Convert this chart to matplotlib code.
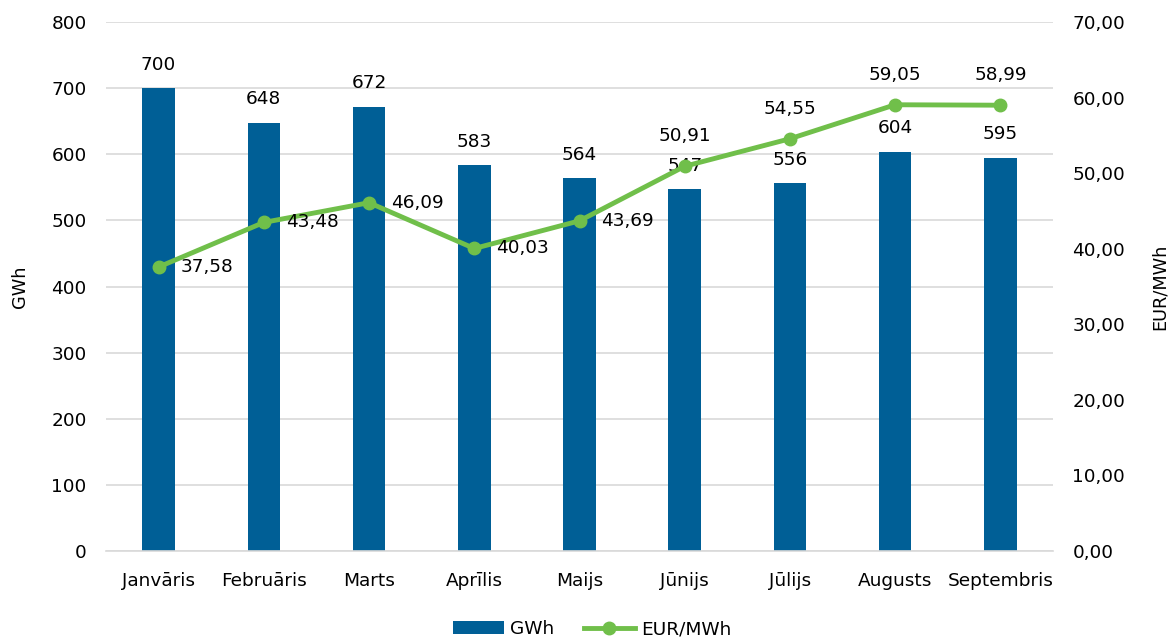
import matplotlib
matplotlib.use("Agg")
import matplotlib.pyplot as plt
import numpy as np

months = ["Janvāris", "Februāris", "Marts", "Aprīlis", "Maijs", "Jūnijs", "Jūlijs", "Augusts", "Septembris"]
gwh = [700, 648, 672, 583, 564, 547, 556, 604, 595]
price = [37.58, 43.48, 46.09, 40.03, 43.69, 50.91, 54.55, 59.05, 58.99]
# label placement: 'r' = right of point, 'a' = above point
price_pos = ["r", "r", "r", "r", "r", "a", "a", "a", "a"]

bar_color = "#005f96"
line_color = "#70bf4a"
plt.rcParams['font.family'] = ['DejaVu Sans']
fs = 13.3
px = 72 / 100  # pixels -> points

fig = plt.figure(figsize=(11.72, 6.39), dpi=100)
ax = fig.add_axes([106/1172, 1-551/639, (1053-106)/1172, (551-22)/639])
x = np.arange(len(months))
ax.bar(x, gwh, width=0.31, color=bar_color, zorder=2, label="GWh")
ax.set_ylim(0, 800)
ax.set_xlim(-0.5, len(months)-0.5)
ax.set_yticks(range(0, 801, 100))
ax.grid(axis='y', color='#d9d9d9', linewidth=1.2, zorder=0)
ax.set_axisbelow(True)
for s in ax.spines.values():
    s.set_visible(False)
ax.spines['bottom'].set_visible(True)
ax.spines['bottom'].set_color('#d9d9d9')
ax.spines['bottom'].set_linewidth(1.2)
ax.tick_params(axis='y', length=0, labelsize=fs, pad=14)
ax.tick_params(axis='x', length=0, labelsize=fs, pad=15)
ax.set_xticks(x)
ax.set_xticklabels(months)
ax.set_ylabel("GWh", fontsize=fs-0.5, labelpad=16)
for xi, v in zip(x, gwh):
    ax.annotate(f"{v}", (xi, v), xytext=(0, 23.5 * px), textcoords='offset points',
                ha='center', va='center', fontsize=fs)

ax2 = ax.twinx()
ax2.set_ylim(0, 70)
ax2.set_yticks(range(0, 71, 10))
ax2.set_yticklabels([f"{v:.2f}".replace('.', ',') for v in range(0, 71, 10)])
for s in ax2.spines.values():
    s.set_visible(False)
ax2.tick_params(length=0, labelsize=fs, pad=14)
ax2.set_ylabel("EUR/MWh", fontsize=fs-0.5, labelpad=18)
ln, = ax2.plot(x, price, color=line_color, linewidth=3.5, marker='o', markersize=9,
               zorder=3, label="EUR/MWh")
for xi, v, p in zip(x, price, price_pos):
    lab = f"{v:.2f}".replace('.', ',')
    if p == "a":
        ax2.annotate(lab, (xi, v), xytext=(0, 30 * px), textcoords='offset points',
                     ha='center', va='center', fontsize=fs)
    else:
        ax2.annotate(lab, (xi, v), xytext=(22 * px, 0), textcoords='offset points',
                     ha='left', va='center', fontsize=fs)

h1, l1 = ax.get_legend_handles_labels()
h2, l2 = ax2.get_legend_handles_labels()
fig.legend(h1 + h2, l1 + l2, loc='lower center', bbox_to_anchor=(0.505, -0.025), ncol=2,
           frameon=False, fontsize=fs, handlelength=2.8, columnspacing=1.6, handletextpad=0.3)

fig.savefig("out.png", dpi=100)
